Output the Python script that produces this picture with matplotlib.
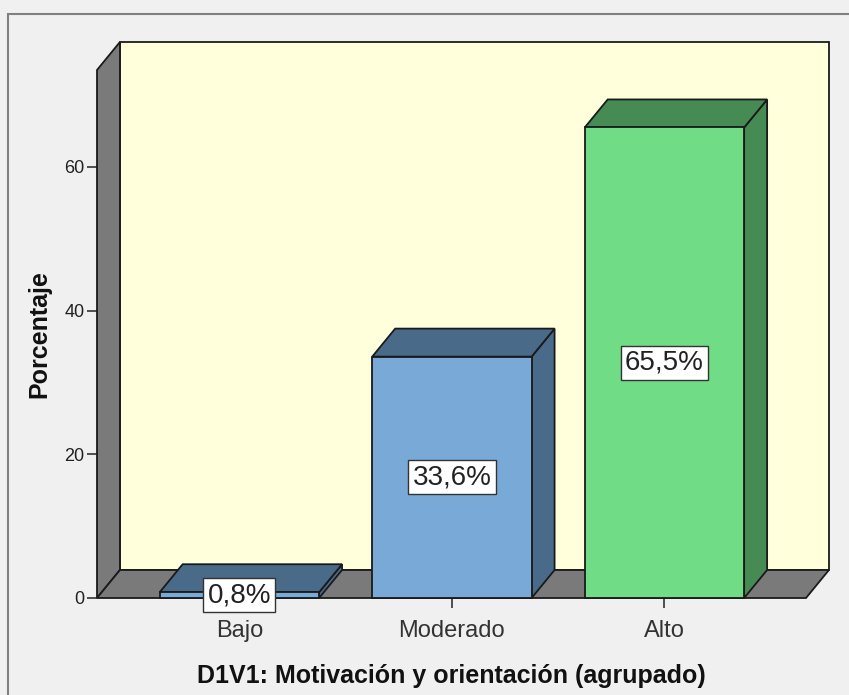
import numpy as np
import matplotlib
matplotlib.use("Agg")
import matplotlib.pyplot as plt
from matplotlib.patches import Polygon, Rectangle

plt.rcParams['font.family'] = ['Liberation Sans', 'DejaVu Sans']

# data
categorias = ['Bajo', 'Moderado', 'Alto']
porcentajes = [0.8, 33.6, 65.5]
etiquetas = ['0,8%', '33,6%', '65,5%']
yticks = [0, 20, 40, 60]

# colours (front, side/top) per bar
frente = ['#79a9d7', '#79a9d7', '#70dc86']
lado = ['#4a6a8a', '#4a6a8a', '#468a54']

W, H = 849, 695
fig = plt.figure(figsize=(W / 100, H / 100), dpi=100)
fig.patch.set_facecolor('#f0f0f0')

# outer frame
fig.add_artist(Rectangle((8 / W, -0.01), 1.0, (H - 14) / H + 0.01,
                         transform=fig.transFigure, fill=False,
                         edgecolor='#808080', lw=1.5))

# front plane of the plot
left, right, y0px, toppx = 97, 806, 598, 70
ax = fig.add_axes([left / W, (H - y0px) / H, (right - left) / W, (y0px - toppx) / H])
xmin, xmax = -0.67, 2.666
ymax = 73.5
ax.set_xlim(xmin, xmax)
ax.set_ylim(0, ymax)
ax.set_facecolor('none')
for s in ax.spines.values():
    s.set_visible(False)

# depth offset in data units
dx, dy = 0.108, 3.9
ec = '#1a1a1a'

def poly(pts, fc, z):
    ax.add_patch(Polygon(pts, closed=True, facecolor=fc, edgecolor=ec,
                         lw=1.3, clip_on=False, zorder=z))

# back wall, left wall, floor
poly([(xmin + dx, dy), (xmax + dx, dy), (xmax + dx, ymax + dy), (xmin + dx, ymax + dy)], '#ffffdc', 1)
poly([(xmin, 0), (xmin + dx, dy), (xmin + dx, ymax + dy), (xmin, ymax)], '#7a7a7a', 2)
poly([(xmin, 0), (xmax, 0), (xmax + dx, dy), (xmin + dx, dy)], '#7a7a7a', 2)

# bars
bw = 0.75
x = np.arange(len(categorias))
for i, v in enumerate(porcentajes):
    a, b = x[i] - bw / 2, x[i] + bw / 2
    poly([(b, 0), (b + dx, dy), (b + dx, v + dy), (b, v)], lado[i], 3)
    poly([(a, v), (b, v), (b + dx, v + dy), (a + dx, v + dy)], lado[i], 3)
    poly([(a, 0), (b, 0), (b, v), (a, v)], frente[i], 4)
    ax.text(x[i], v / 2, etiquetas[i], ha='center', va='center', fontsize=20,
            color='#222222', zorder=6,
            bbox=dict(boxstyle='square,pad=0.15', fc='white', ec='#333333', lw=1))

ax.set_xticks(x)
ax.set_xticklabels(categorias, fontsize=17, color='#333333')
ax.set_yticks(yticks)
ax.set_yticklabels([str(t) for t in yticks], fontsize=13, color='#222222')
ax.tick_params(axis='y', length=7, width=1.2, color='#333333', pad=2)
ax.tick_params(axis='x', length=7, width=1.2, color='#333333', pad=9)
ax.set_xlabel('D1V1: Motivación y orientación (agrupado)', fontsize=18,
              fontweight='bold', labelpad=16, color='#111111')
ax.set_ylabel('Porcentaje', fontsize=18, fontweight='bold', labelpad=9, color='#111111')

fig.savefig('out.png', dpi=100, facecolor=fig.get_facecolor())
